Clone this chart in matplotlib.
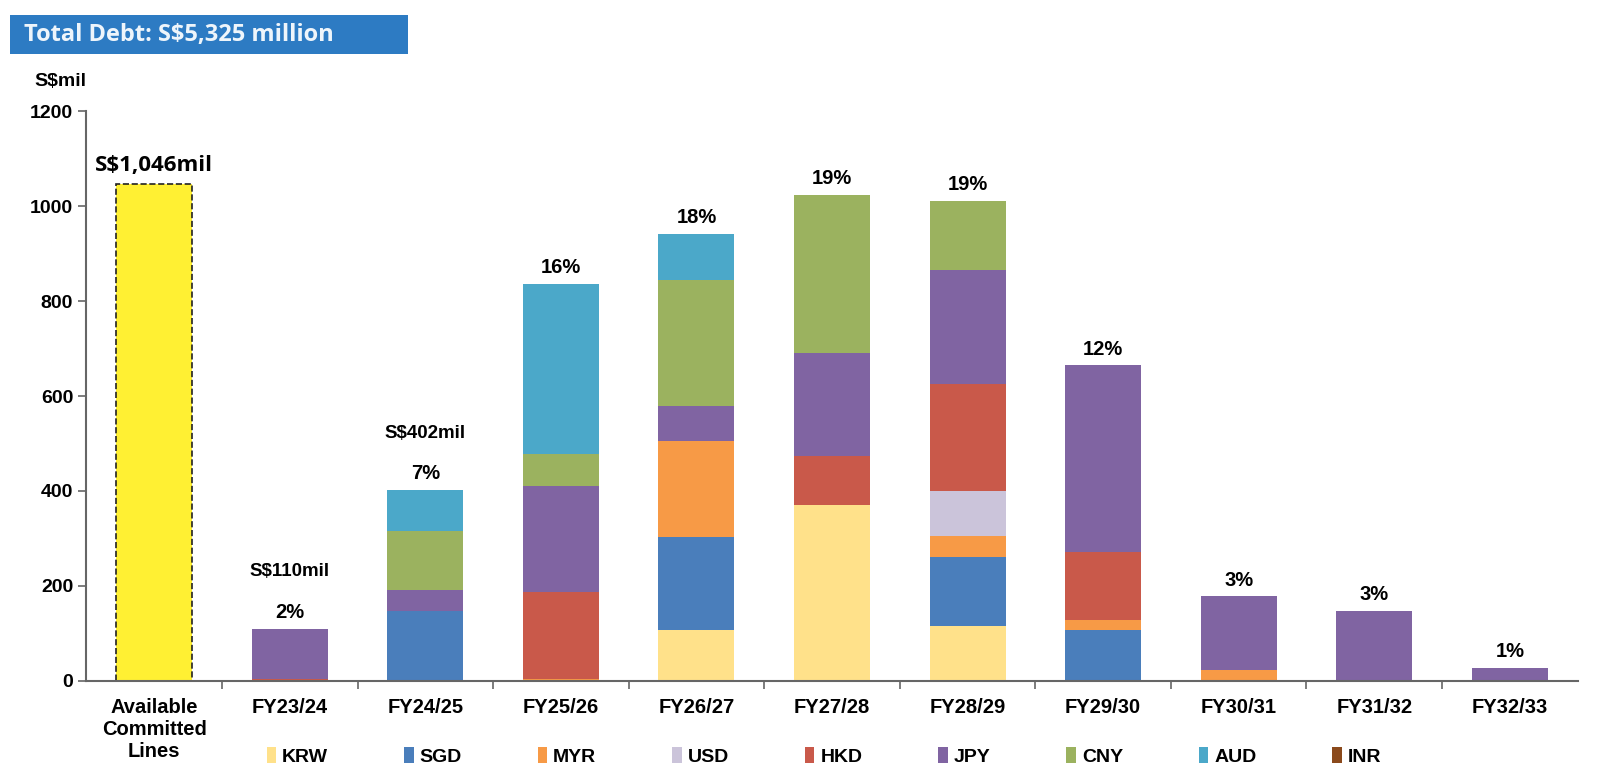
import numpy as np
import matplotlib
matplotlib.use('Agg')
from matplotlib import pyplot as plt
from matplotlib.patches import Rectangle, Patch

plt.rcParams['font.family'] = ['Liberation Sans', 'DejaVu Sans']

categories = ['Available\nCommitted\nLines', 'FY23/24', 'FY24/25', 'FY25/26', 'FY26/27',
              'FY27/28', 'FY28/29', 'FY29/30', 'FY30/31', 'FY31/32', 'FY32/33']
available = 1046

# debt maturity by currency, S$mil (first slot = available lines, not debt)
currencies = ['KRW', 'SGD', 'MYR', 'USD', 'HKD', 'JPY', 'CNY', 'AUD', 'INR']
krw = [0, 0, 0, 0, 108, 370, 116, 0, 0, 0, 0]
sgd = [0, 0, 148, 0, 195, 0, 146, 108, 0, 0, 0]
myr = [0, 0, 0, 3, 202, 0, 43, 21, 22, 0, 0]
usd = [0, 0, 0, 0, 0, 0, 95, 0, 0, 0, 0]
hkd = [0, 5, 0, 185, 0, 103, 226, 142, 0, 0, 0]
jpy = [0, 105, 43, 222, 73, 217, 239, 394, 156, 148, 28]
cny = [0, 0, 125, 67, 267, 334, 146, 0, 0, 0, 0]
aud = [0, 0, 86, 359, 97, 0, 0, 0, 0, 0, 0]
inr = [0, 0, 0, 0, 0, 0, 0, 0, 0, 0, 0]
pct_labels = ['', '2%', '7%', '16%', '18%', '19%', '19%', '12%', '3%', '3%', '1%']
amount_labels = {1: 'S$110mil', 2: 'S$402mil'}

colors = ['#FFE18A', '#4A7EBB', '#F79A46', '#CBC4DA', '#C9594A',
          '#8064A2', '#9BB25F', '#4BA8C9', '#8B4A1C']
series = [krw, sgd, myr, usd, hkd, jpy, cny, aud, inr]

fig = plt.figure(figsize=(16, 7.72), dpi=100)
ax = fig.add_axes([0.054, 0.118, 0.932, 0.738])

x = np.arange(len(categories))
w = 0.56

ax.bar(x[0], available, w, color='#FFF033', edgecolor='#222222', linestyle='--', linewidth=1.2)
ax.text(x[0], available + 18, 'S$1,046mil', ha='center', va='bottom', fontsize=16, fontweight='bold',
        family=['Open Sans', 'DejaVu Sans'])

bottom = np.zeros(len(categories))
for vals, col, name in zip(series, colors, currencies):
    vals = np.array(vals, dtype=float)
    ax.bar(x, vals, w, bottom=bottom, color=col, label=name)
    bottom += vals

for i in range(1, len(categories)):
    ax.text(x[i], bottom[i] + 14, pct_labels[i], ha='center', va='bottom', fontsize=14.5, fontweight='bold')
for i, s in amount_labels.items():
    ax.text(x[i], bottom[i] + 102, s, ha='center', va='bottom', fontsize=13.5, fontweight='bold')

ax.set_xlim(-0.5, len(categories) - 0.5)
ax.set_ylim(0, 1200)
ax.set_yticks(range(0, 1201, 200))
ax.set_xticks(x)
ax.set_xticklabels(categories, fontsize=14.5, fontweight='bold', linespacing=1.2)
ax.set_xticks(np.arange(0.5, len(categories) - 0.5), minor=True)
ax.tick_params(axis='x', which='major', length=0, pad=12)
ax.tick_params(axis='x', which='minor', length=6, color='#666666', width=1.2)
ax.tick_params(axis='y', length=6, color='#666666', width=1.2, labelsize=14)
for lab in ax.get_yticklabels():
    lab.set_fontweight('bold')
for s in ['top', 'right']:
    ax.spines[s].set_visible(False)
for s in ['left', 'bottom']:
    ax.spines[s].set_color('#666666')
    ax.spines[s].set_linewidth(1.5)

ax.text(0.0, 1.038, 'S$mil', transform=ax.transAxes, ha='right', va='bottom',
        fontsize=14, fontweight='bold')

handles = [Patch(facecolor=c, label=n) for c, n in zip(colors, currencies)]
fig.legend(handles=handles, loc='center', bbox_to_anchor=(0.515, 0.02), ncol=9, frameon=False,
           prop={'weight': 'bold', 'size': 14}, handlelength=0.5, handleheight=0.9,
           handletextpad=0.3, columnspacing=3.9)

# title banner
fig.patches.append(Rectangle((10 / 1600, 1 - 54 / 772), 398 / 1600, 39 / 772,
                             transform=fig.transFigure, facecolor='#2D7BC3', edgecolor='none'))
fig.text(24 / 1600, 1 - 35 / 772, 'Total Debt: S$5,325 million', ha='left', va='center',
         fontsize=17, fontweight='bold', color='#EEF5FB', family=['Open Sans', 'DejaVu Sans'])

plt.savefig('out.png', dpi=100)
